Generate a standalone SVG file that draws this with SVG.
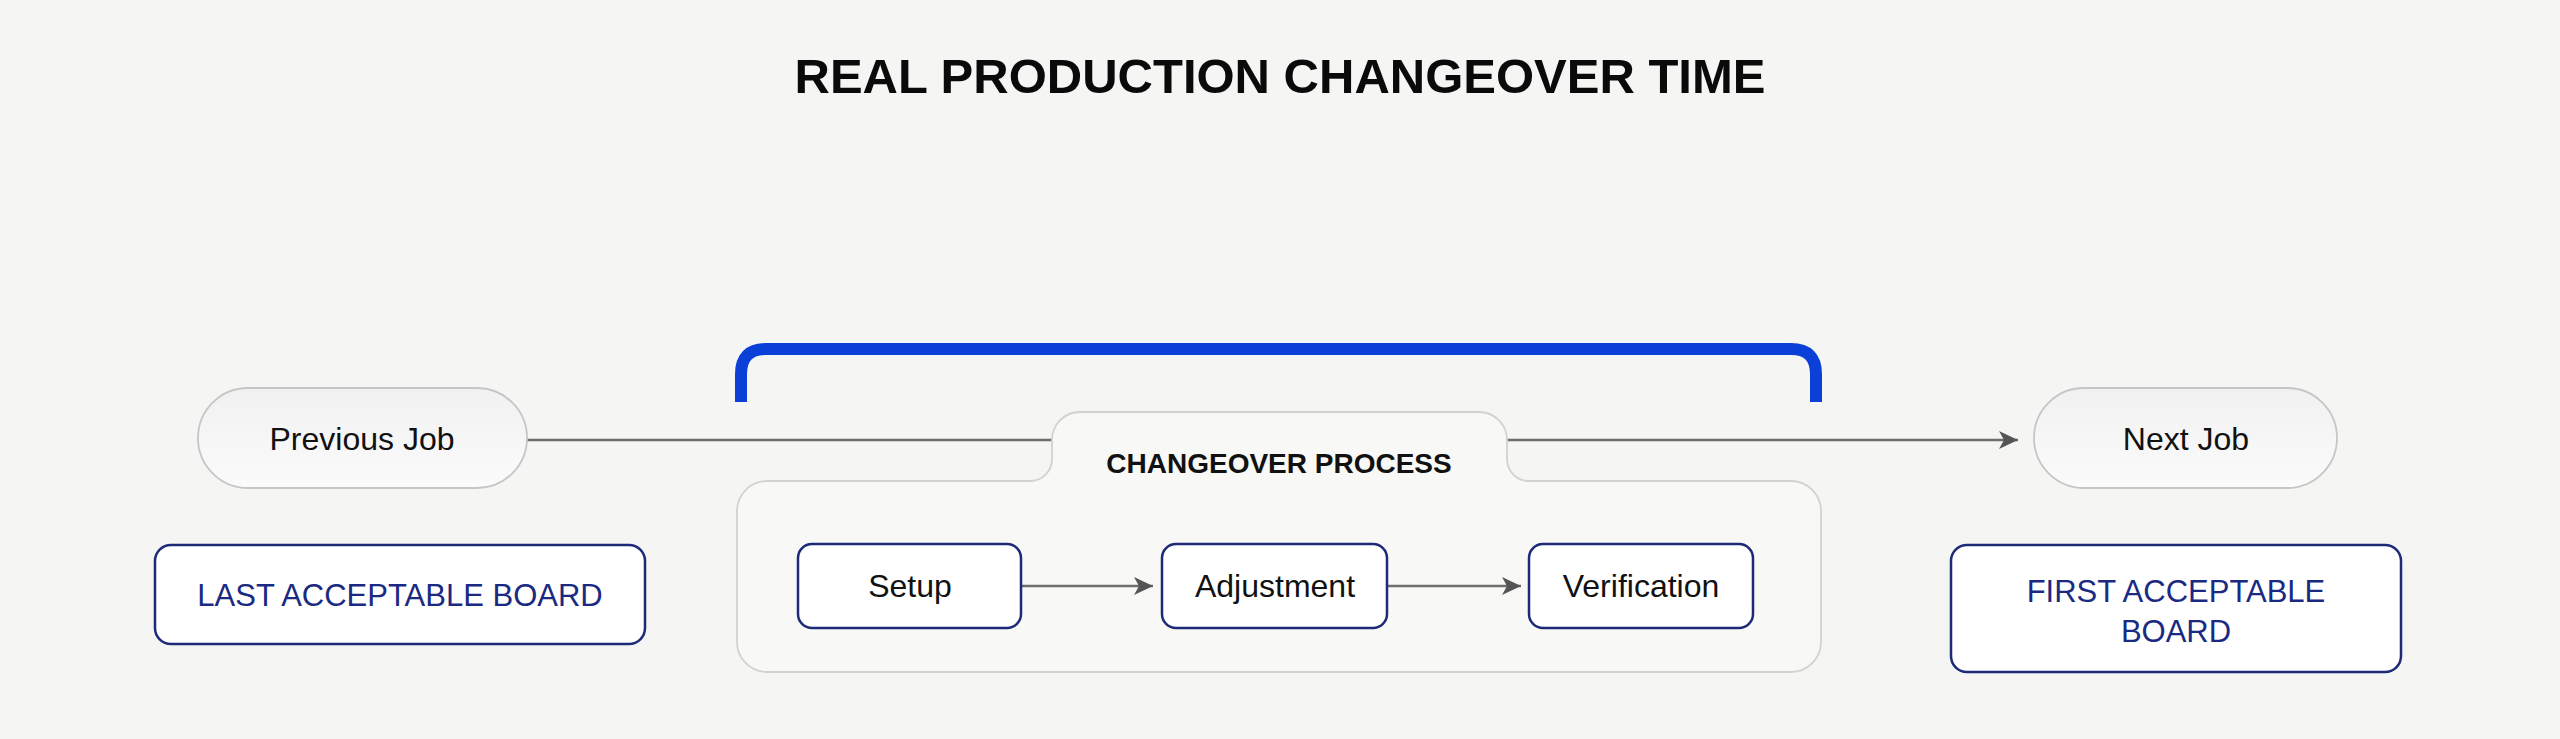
<svg xmlns="http://www.w3.org/2000/svg" width="2560" height="739" viewBox="0 0 2560 739">
<style>
.pill{fill:url(#pillg);stroke:#c6c6c6;stroke-width:1.8}
.box{fill:#ffffff;stroke:#1c2a78;stroke-width:2.5}
.cont{fill:#f8f8f6;stroke:#d2d2d0;stroke-width:1.8}
.t{font-family:"Liberation Sans",Arial,sans-serif;font-size:32px;fill:#111111;text-anchor:middle}
.nv{font-family:"Liberation Sans",Arial,sans-serif;font-size:31px;fill:#1a2a82;text-anchor:middle}
.conn{stroke:#6e6e6e;stroke-width:2.5;fill:none}
</style>
<defs>
<linearGradient id="pillg" x1="0" y1="0" x2="0" y2="1">
<stop offset="0" stop-color="#f1f1f1"/>
<stop offset="1" stop-color="#fbfbfb"/>
</linearGradient>
<marker id="ah" markerUnits="userSpaceOnUse" markerWidth="20" markerHeight="18" refX="19" refY="9" orient="auto">
<path d="M0,0 L19,9 L0,18 L5,9 Z" fill="#555555"/>
</marker>
</defs>
<rect width="2560" height="739" fill="#f5f5f3"/>
<text x="1280" y="93" font-family="'Liberation Sans',Arial,sans-serif" font-size="49" font-weight="bold" fill="#0a0a0a" text-anchor="middle">REAL PRODUCTION CHANGEOVER TIME</text>
<g id="connectors">
<line class="conn" x1="527" y1="440" x2="2018" y2="440" marker-end="url(#ah)"/>
<path id="bracket" d="M741,402 V374 Q741,349 766,349 H1791 Q1816,349 1816,374 V402" fill="none" stroke="#0b40d8" stroke-width="12"/>
</g>
<g id="changeover-process">
<path class="cont" d="M767,481 H1030 A22,22 0 0 0 1052,459 V440 A28,28 0 0 1 1080,412 H1479 A28,28 0 0 1 1507,440 V459 A22,22 0 0 0 1529,481 H1791 A30,30 0 0 1 1821,511 V642 A30,30 0 0 1 1791,672 H767 A30,30 0 0 1 737,642 V511 A30,30 0 0 1 767,481 Z"/>
<text x="1279" y="473" font-family="'Liberation Sans',Arial,sans-serif" font-size="28" font-weight="bold" fill="#111111" text-anchor="middle">CHANGEOVER PROCESS</text>
</g>
<g id="connectors-inner">
<line class="conn" x1="1022" y1="586" x2="1153" y2="586" marker-end="url(#ah)"/>
<line class="conn" x1="1388" y1="586" x2="1521" y2="586" marker-end="url(#ah)"/>
</g>
<g id="previous-job">
<rect class="pill" x="198" y="388" width="329" height="100" rx="50"/>
<text class="t" x="362" y="450">Previous Job</text>
</g>
<g id="next-job">
<rect class="pill" x="2034" y="388" width="303" height="100" rx="50"/>
<text class="t" x="2186" y="450">Next Job</text>
</g>
<g id="last-acceptable-board">
<rect class="box" x="155" y="545" width="490" height="99" rx="16"/>
<text class="nv" x="400" y="606">LAST ACCEPTABLE BOARD</text>
</g>
<g id="setup">
<rect class="box" x="798" y="544" width="223" height="84" rx="14"/>
<text class="t" x="910" y="597">Setup</text>
</g>
<g id="adjustment">
<rect class="box" x="1162" y="544" width="225" height="84" rx="14"/>
<text class="t" x="1275" y="597">Adjustment</text>
</g>
<g id="verification">
<rect class="box" x="1529" y="544" width="224" height="84" rx="14"/>
<text class="t" x="1641" y="597">Verification</text>
</g>
<g id="first-acceptable-board">
<rect class="box" x="1951" y="545" width="450" height="127" rx="16"/>
<text class="nv" x="2176" y="602">FIRST ACCEPTABLE</text>
<text class="nv" x="2176" y="642">BOARD</text>
</g>
</svg>
